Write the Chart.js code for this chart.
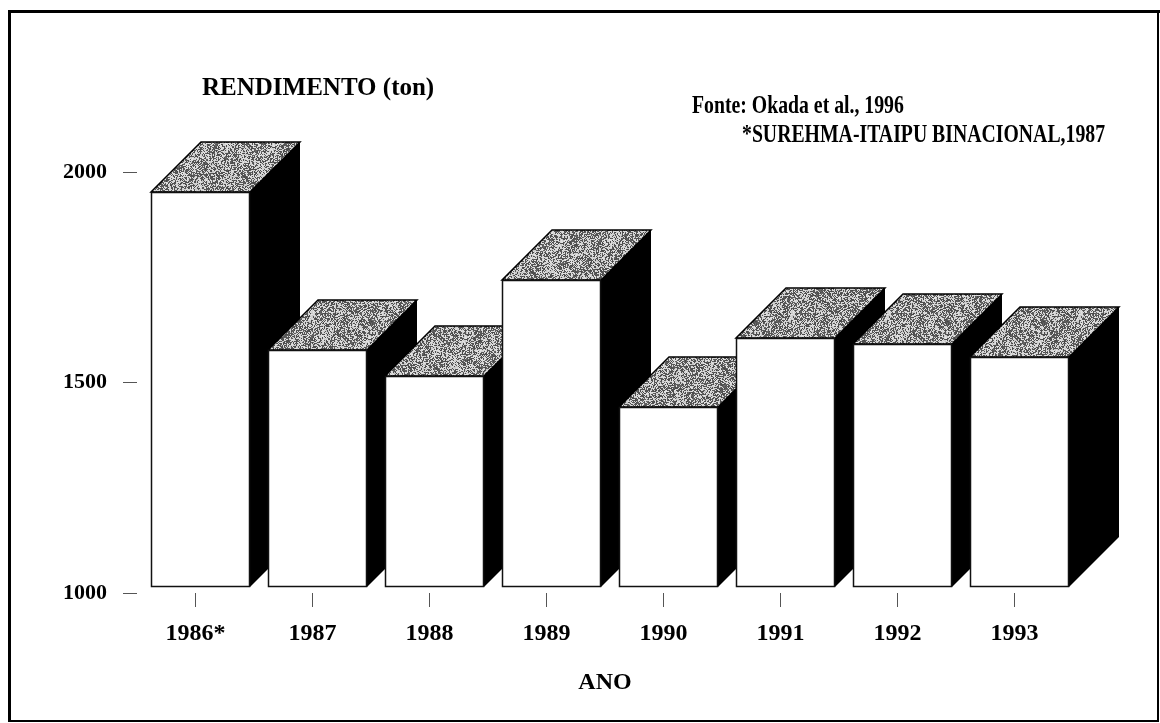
<!DOCTYPE html>
<html><head><meta charset="utf-8">
<style>html,body{margin:0;padding:0;background:#fff;} canvas{display:block;}</style>
<script src="https://cdn.jsdelivr.net/npm/chart.js"></script>
</head><body>
<canvas id="c" width="1160" height="723"></canvas>
<script>
// ---- data ----
const categories = ['1986*', '1987', '1988', '1989', '1990', '1991', '1992', '1993'];
const rendimento = [1952, 1577, 1515, 1743, 1442, 1606, 1591, 1561];
const yTickValues = [1000, 1500, 2000];
const yTitle = 'RENDIMENTO (ton)';
const xTitle = 'ANO';
const sourceLines = ['Fonte: Okada et al., 1996', '*SUREHMA-ITAIPU BINACIONAL,1987'];

// ---- style ----
const SERIF = '"Liberation Serif", "Times New Roman", serif';
const DEPTH_X = 50, DEPTH_Y = 50;
const SHIFT_X = 5, LIFT = 6;

function makeTopPattern(ctx) {
  const c = document.createElement('canvas');
  c.width = 96; c.height = 96;
  const g = c.getContext('2d');
  const img = g.createImageData(96, 96);
  for (let j = 0; j < 96; j++) {
    for (let i = 0; i < 96; i++) {
      const h = Math.abs(Math.sin(i * 12.9898 + j * 78.233) * 43758.5453) % 1;
      const blob = 0.5 + 0.18 * Math.sin(i * 0.21) * Math.cos(j * 0.17 + i * 0.05);
      const v = h < blob ? 70 + h * 60 : 170 + h * 60;
      const k = (j * 96 + i) * 4;
      img.data[k] = img.data[k + 1] = img.data[k + 2] = v;
      img.data[k + 3] = 255;
    }
  }
  g.putImageData(img, 0, 0);
  return ctx.createPattern(c, 'repeat');
}

const bar3d = {
  id: 'bar3d',
  afterDatasetsDraw(chart) {
    const ctx = chart.ctx;
    const meta = chart.getDatasetMeta(0);
    const pat = makeTopPattern(ctx);
    ctx.save();
    ctx.lineJoin = 'miter';
    meta.data.forEach((el) => {
      const p = el.getProps(['x', 'y', 'base', 'width'], true);
      const L = Math.round(p.x - p.width / 2 + SHIFT_X);
      const R = L + Math.round(p.width);
      const T = Math.round(p.y);
      const B = Math.round(p.base) - LIFT;
      // side face
      ctx.beginPath();
      ctx.moveTo(R, T); ctx.lineTo(R + DEPTH_X, T - DEPTH_Y);
      ctx.lineTo(R + DEPTH_X, B - DEPTH_Y); ctx.lineTo(R, B); ctx.closePath();
      ctx.fillStyle = '#000'; ctx.fill();
      // top face
      ctx.beginPath();
      ctx.moveTo(L, T); ctx.lineTo(L + DEPTH_X, T - DEPTH_Y);
      ctx.lineTo(R + DEPTH_X, T - DEPTH_Y); ctx.lineTo(R, T); ctx.closePath();
      ctx.fillStyle = pat; ctx.fill();
      ctx.lineWidth = 1.5; ctx.strokeStyle = '#000'; ctx.stroke();
      // front face
      ctx.fillStyle = '#fff';
      ctx.fillRect(L, T, R - L, B - T);
      ctx.lineWidth = 1.5; ctx.strokeStyle = '#111';
      ctx.strokeRect(L + 0.5, T + 0.5, R - L - 1, B - T - 1);
    });
    ctx.restore();
  },
  afterDraw(chart) {
    const ctx = chart.ctx;
    ctx.save();
    // frame
    ctx.strokeStyle = '#000';
    ctx.lineWidth = 3;
    ctx.beginPath();
    ctx.moveTo(9.5, 722); ctx.lineTo(9.5, 11.5); ctx.lineTo(1160, 11.5);
    ctx.stroke();
    ctx.lineWidth = 2;
    ctx.beginPath();
    ctx.moveTo(1158, 11.5); ctx.lineTo(1158, 721); ctx.lineTo(9.5, 721);
    ctx.stroke();
    // y title
    ctx.fillStyle = '#000';
    ctx.textBaseline = 'alphabetic';
    ctx.textAlign = 'left';
    ctx.font = 'bold 25px ' + SERIF;
    ctx.fillText(yTitle, 202, 95);
    // source notes (condensed)
    ctx.font = 'bold 26px ' + SERIF;
    const pos = [[692, 113], [742, 142]];
    sourceLines.forEach((s, i) => {
      ctx.save();
      ctx.translate(pos[i][0], pos[i][1]);
      ctx.scale(0.76, 1);
      ctx.fillText(s, 0, 0);
      ctx.restore();
    });
    ctx.restore();
  }
};

new Chart(document.getElementById('c'), {
  type: 'bar',
  data: {
    labels: categories,
    datasets: [{
      label: yTitle,
      data: rendimento,
      base: yTickValues[0],
      backgroundColor: 'rgba(0,0,0,0)',
      borderWidth: 0,
      categoryPercentage: 1,
      barPercentage: 0.846
    }]
  },
  options: {
    responsive: false,
    animation: false,
    events: [],
    layout: { padding: { top: 172, right: 87, left: 0, bottom: 0 } },
    plugins: { legend: { display: false }, tooltip: { enabled: false } },
    scales: {
      x: {
        afterFit(s) { s.height = 130; },
        grid: { display: true, drawOnChartArea: false, drawTicks: true, tickLength: 14, offset: false, color: '#555', lineWidth: 1 },
        border: { display: false },
        ticks: { color: '#000', padding: 12, font: { family: SERIF, size: 24, weight: 'bold' } },
        title: { display: true, text: xTitle, color: '#000', padding: { top: 0, bottom: 26 }, font: { family: SERIF, size: 24, weight: 'bold', lineHeight: 1.2 } }
      },
      y: {
        min: yTickValues[0],
        max: yTickValues[yTickValues.length - 1],
        afterFit(s) { s.width = 137; },
        afterBuildTicks(s) { s.ticks = yTickValues.map(v => ({ value: v })); },
        grid: { display: true, drawOnChartArea: false, drawTicks: true, tickLength: 14, color: '#555', lineWidth: 1 },
        border: { display: false },
        ticks: { color: '#000', padding: 16, font: { family: SERIF, size: 22, weight: 'bold' }, callback: (v) => String(v) }
      }
    }
  },
  plugins: [bar3d]
});
</script>
</body></html>
